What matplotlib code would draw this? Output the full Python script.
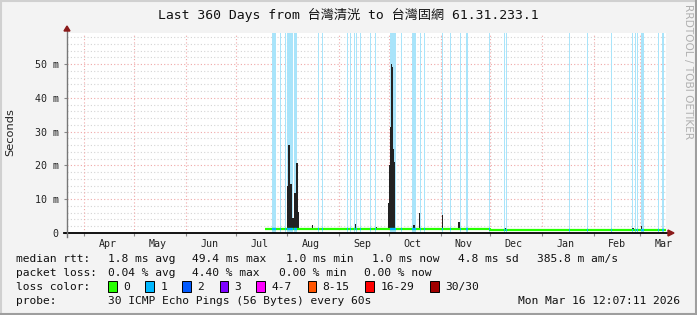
import matplotlib
matplotlib.use("Agg")
import matplotlib.pyplot as plt
import matplotlib.dates as mdates
import matplotlib.patches as mpatches
import matplotlib.lines as mlines
import pandas as pd

# ---------------- data ----------------
title = "Last 360 Days from 台灣清洸 to 台灣固網 61.31.233.1"
t_start = "2025-03-21 12:07:11"
t_end = "2026-03-16 12:07:11"

month_labels = ["Apr", "May", "Jun", "Jul", "Aug", "Sep", "Oct", "Nov", "Dec", "Jan", "Feb", "Mar"]
y_ticks_ms = [0, 10, 20, 30, 40, 50]
y_tick_labels = ["0", "10 m", "20 m", "30 m", "40 m", "50 m"]

# median rtt (ms), step function
median_times = ["2025-07-18 10:00", "2025-12-01 00:00", "2026-03-16 12:07"]
median_ms = [1.3, 1.0, 1.0]

# periods with 1/30 packet loss
loss_start = ["2025-07-22 14:00", "2025-07-27 10:00", "2025-07-30 10:00", "2025-08-01 00:00",
              "2025-08-05 00:00", "2025-08-19 05:00", "2025-08-21 14:00", "2025-09-05 19:00",
              "2025-09-07 19:00", "2025-09-09 19:00", "2025-09-11 00:00", "2025-09-13 10:00",
              "2025-09-19 19:00", "2025-09-22 19:00", "2025-10-01 10:00", "2025-10-08 00:00",
              "2025-10-15 00:00", "2025-10-19 10:00", "2025-10-21 19:00", "2025-11-01 14:00",
              "2025-11-06 10:00", "2025-11-12 10:00", "2025-11-16 14:00", "2025-11-30 10:00",
              "2025-12-09 10:00", "2025-12-10 14:00", "2026-01-17 10:00", "2026-01-28 05:00",
              "2026-02-11 14:00", "2026-02-24 05:00", "2026-02-25 14:00", "2026-02-27 05:00",
              "2026-03-01 10:00", "2026-03-11 19:00", "2026-03-14 05:00"]
loss_end = ["2025-07-25 05:00", "2025-07-28 00:00", "2025-07-31 00:00", "2025-08-04 14:00",
            "2025-08-06 19:00", "2025-08-20 00:00", "2025-08-22 10:00", "2025-09-06 14:00",
            "2025-09-08 10:00", "2025-09-10 14:00", "2025-09-11 14:00", "2025-09-14 05:00",
            "2025-09-20 10:00", "2025-09-23 10:00", "2025-10-05 00:00", "2025-10-08 14:00",
            "2025-10-17 00:00", "2025-10-20 00:00", "2025-10-22 10:00", "2025-11-02 05:00",
            "2025-11-07 00:00", "2025-11-13 00:00", "2025-11-17 05:00", "2025-12-01 00:00",
            "2025-12-10 00:00", "2025-12-11 05:00", "2026-01-18 00:00", "2026-01-28 19:00",
            "2026-02-12 05:00", "2026-02-24 19:00", "2026-02-26 05:00", "2026-02-27 19:00",
            "2026-03-03 14:00", "2026-03-12 10:00", "2026-03-15 14:00"]

# rtt smoke (max of pings, ms)
smoke_start = ["2025-07-31 14:00", "2025-08-01 05:00", "2025-08-02 14:00", "2025-08-03 14:00",
               "2025-08-04 19:00", "2025-08-06 00:00", "2025-08-07 05:00", "2025-08-15 19:00",
               "2025-09-10 10:00", "2025-09-23 00:00", "2025-09-30 05:00", "2025-10-01 00:00",
               "2025-10-01 14:00", "2025-10-02 10:00", "2025-10-03 00:00", "2025-10-03 14:00",
               "2025-10-04 05:00", "2025-10-15 05:00", "2025-10-18 19:00", "2025-11-01 14:00",
               "2025-11-11 19:00", "2025-12-10 00:00", "2026-02-24 05:00", "2026-03-01 10:00"]
smoke_end = ["2025-08-01 05:00", "2025-08-02 14:00", "2025-08-03 14:00", "2025-08-04 19:00",
             "2025-08-06 00:00", "2025-08-07 05:00", "2025-08-07 19:00", "2025-08-16 10:00",
             "2025-09-11 10:00", "2025-09-23 14:00", "2025-10-01 00:00", "2025-10-01 14:00",
             "2025-10-02 10:00", "2025-10-03 00:00", "2025-10-03 14:00", "2025-10-04 05:00",
             "2025-10-04 19:00", "2025-10-16 19:00", "2025-10-19 19:00", "2025-11-02 12:00",
             "2025-11-12 19:00", "2025-12-10 14:00", "2026-02-25 05:00", "2026-03-01 23:00"]
smoke_top_ms = [14.0, 26.0, 14.5, 4.4, 11.8, 20.7, 6.2, 2.5,
                2.6, 1.9, 9.0, 20.0, 31.5, 50.0, 49.2, 25.0,
                21.0, 2.4, 6.0, 5.3, 3.3, 1.6, 1.6, 2.0]

loss_color_labels = ["0", "1", "2", "3", "4-7", "8-15", "16-29", "30/30"]
loss_colors = ["#26ff00", "#00b8ff", "#0059ff", "#7e00ff", "#ff00ff", "#ff5500", "#ff0000", "#a00000"]

rtt_stats = ["1.8 ms avg", "49.4 ms max", "1.0 ms min", "1.0 ms now", "4.8 ms sd", "385.8 m am/s"]
loss_stats = ["0.04 % avg", "4.40 % max", "0.00 % min", "0.00 % now"]
probe_text = "30 ICMP Echo Pings (56 Bytes) every 60s"
stamp_text = "Mon Mar 16 12:07:11 2026"

# ---------------- drawing ----------------
W, H = 697, 315
MONO = ["DejaVu Sans Mono", "Noto Sans CJK TC"]
fig = plt.figure(figsize=(W / 100, H / 100), dpi=100, facecolor="#f3f3f3")


def fx(x):
    return x / W


def fy(y):
    return 1 - y / H


L, R, T, B = 67, 666, 33, 233
ax = fig.add_axes([fx(L), fy(B), (R - L) / W, (B - T) / H])
ax.set_facecolor("white")
for s in ax.spines.values():
    s.set_visible(False)

x0 = mdates.date2num(pd.Timestamp(t_start))
x1 = mdates.date2num(pd.Timestamp(t_end))
ax.set_xlim(x0, x1)
ax.set_ylim(0, 59.2)

# grid
for v in range(2, 60, 2):
    if v % 10:
        ax.axhline(v, color="#d4d4d4", lw=0.8, ls=(0, (1, 2)), zorder=1)
for v in y_ticks_ms[1:]:
    ax.axhline(v, color="#f0a8a8", lw=0.8, ls=(0, (1, 2)), zorder=1)

month_starts = pd.date_range("2025-04-01", "2026-03-01", freq="MS")
for m in month_starts:
    ax.axvline(mdates.date2num(m), color="#f0a8a8", lw=0.8, ls=(0, (1, 2)), zorder=1)

# loss background
ls_num = mdates.date2num(pd.to_datetime(loss_start))
le_num = mdates.date2num(pd.to_datetime(loss_end))
for a, b in zip(ls_num, le_num):
    ax.axvspan(a, b, color="#a9e4fa", lw=0, zorder=2)

# smoke
ss = mdates.date2num(pd.to_datetime(smoke_start))
se = mdates.date2num(pd.to_datetime(smoke_end))
base = 1.0
ax.bar(ss, [t - base for t in smoke_top_ms], width=se - ss, bottom=base,
       align="edge", color="#222222", lw=0, zorder=3)

# median line
mt = mdates.date2num(pd.to_datetime(median_times))
ax.step(mt, median_ms, where="post", color=loss_colors[0], lw=1.6, zorder=4,
        solid_capstyle="butt")
# median coloured by loss during loss periods
for a, b in zip(ls_num, le_num):
    idx = max(i for i in range(len(mt)) if mt[i] <= a) if a >= mt[0] else 0
    ax.plot([a, b], [median_ms[idx]] * 2, color=loss_colors[1], lw=1.6, zorder=5,
            solid_capstyle="butt")

# ticks
ax.set_yticks(y_ticks_ms)
ax.set_yticklabels(y_tick_labels, family=MONO, fontsize=7.2, color="#222222")
ax.tick_params(axis="y", length=2, width=0.8, pad=4, color="#888888", direction="out")
ax.set_xticks(mdates.date2num(month_starts))
ax.set_xticklabels([])
ax.tick_params(axis="x", which="major", length=2, width=0.8, color="#888888")
mid = mdates.date2num(month_starts + pd.Timedelta(days=14))
ax.set_xticks(mid, minor=True)
ax.set_xticklabels(month_labels, minor=True, family=MONO, fontsize=7.2, color="#222222")
ax.tick_params(axis="x", which="minor", length=0, pad=4)

# axes lines and arrows in figure coords
fig.add_artist(mlines.Line2D([fx(64), fx(669)], [fy(233), fy(233)], color="black", lw=1.3,
                             transform=fig.transFigure, zorder=10))
fig.add_artist(mlines.Line2D([fx(67), fx(67)], [fy(236.5), fy(30)], color="#777777", lw=1.0,
                             transform=fig.transFigure, zorder=10))
fig.add_artist(mpatches.Polygon([[fx(64), fy(31)], [fx(70), fy(31)], [fx(67), fy(26)]],
                                closed=True, color="#8b1a1a", transform=fig.transFigure, zorder=11))
fig.add_artist(mpatches.Polygon([[fx(668), fy(230)], [fx(668), fy(236)], [fx(674), fy(233)]],
                                closed=True, color="#8b1a1a", transform=fig.transFigure, zorder=11))

# frame shading
fig.add_artist(mlines.Line2D([0, 1], [fy(0.5), fy(0.5)], color="#d0d0d0", lw=1.5, transform=fig.transFigure))
fig.add_artist(mlines.Line2D([fx(0.5), fx(0.5)], [0, 1], color="#d0d0d0", lw=1.5, transform=fig.transFigure))
fig.add_artist(mlines.Line2D([0, 1], [fy(314), fy(314)], color="#9e9e9e", lw=1.5, transform=fig.transFigure))
fig.add_artist(mlines.Line2D([fx(696), fx(696)], [0, 1], color="#9e9e9e", lw=1.5, transform=fig.transFigure))

# title and side texts
fig.text(fx(348), fy(15), title, ha="center", va="center", family=MONO, fontsize=9.45, color="#111111")
fig.text(fx(10), fy(132.5), "Seconds", rotation=90, ha="center", va="center",
         family="DejaVu Sans", fontsize=8.2, color="#222222")
fig.text(fx(688), fy(4), "RRDTOOL / TOBI OETIKER", rotation=270, ha="center", va="top",
         family="DejaVu Sans", fontsize=7.6, color="#b0b0b0")

# legend
LF = 8.1
fig.text(fx(16), fy(259), "median rtt:", family=MONO, fontsize=LF, va="center", color="#111111")
for x, s in zip([107.5, 192.4, 286, 371.6, 457.8, 537], rtt_stats):
    fig.text(fx(x), fy(259), s, family=MONO, fontsize=LF, va="center", color="#111111")
fig.text(fx(16), fy(273), "packet loss:", family=MONO, fontsize=LF, va="center", color="#111111")
for x, s in zip([107.5, 192.4, 279, 364.4], loss_stats):
    fig.text(fx(x), fy(273), s, family=MONO, fontsize=LF, va="center", color="#111111")
fig.text(fx(16), fy(287), "loss color:", family=MONO, fontsize=LF, va="center", color="#111111")
box_x = [108, 145.3, 182.2, 219.6, 256.4, 307.6, 365.3, 430.2]
for bx, lab, c in zip(box_x, loss_color_labels, loss_colors):
    fig.add_artist(mpatches.Rectangle((fx(bx), fy(292)), 8.5 / W, 11 / H, facecolor=c,
                                      edgecolor="black", lw=0.7, transform=fig.transFigure))
    fig.text(fx(bx + 15), fy(287), lab, family=MONO, fontsize=LF, va="center", color="#111111")
fig.text(fx(16), fy(301), "probe:", family=MONO, fontsize=LF, va="center", color="#111111")
fig.text(fx(107.5), fy(301), probe_text, family=MONO, fontsize=LF, va="center", color="#111111")
fig.text(fx(680), fy(301), stamp_text, family=MONO, fontsize=LF, va="center", ha="right", color="#111111")

fig.savefig("out.png", dpi=100, facecolor=fig.get_facecolor())
